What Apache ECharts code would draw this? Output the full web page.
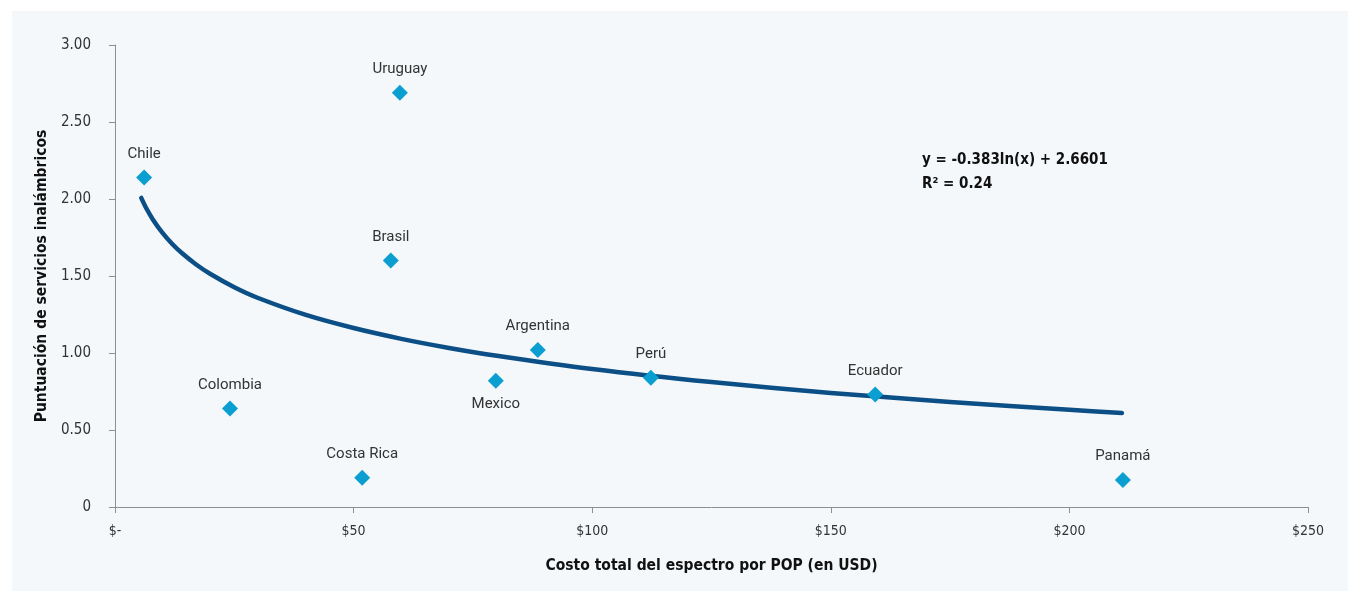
<!DOCTYPE html>
<html>
<head>
<meta charset="utf-8">
<script src="https://cdn.jsdelivr.net/npm/echarts@6/dist/echarts.min.js"></script>
<style>
  html, body { margin: 0; padding: 0; background: #ffffff; }
  #chart { width: 1360px; height: 593px; }
</style>
</head>
<body>
<div id="chart"></div>
<script>
// paises y valores
const countries = ['Chile', 'Uruguay', 'Brasil', 'Colombia', 'Costa Rica', 'Mexico', 'Argentina', 'Perú', 'Ecuador', 'Panamá'];
const costUSD = [6.1, 59.7, 57.8, 24.1, 51.8, 79.8, 88.6, 112.3, 159.3, 211.2];
const wirelessScore = [2.14, 2.69, 1.60, 0.64, 0.19, 0.82, 1.02, 0.84, 0.73, 0.175];
const labelBelow = ['Mexico'];

// linea de tendencia
const trendX = [5.5, 6.5, 8, 10, 12, 14, 17, 20, 25, 30, 40, 50, 60, 70, 80, 100, 125, 150, 175, 200, 211];
const trendY = [2.007, 1.943, 1.864, 1.778, 1.708, 1.649, 1.575, 1.513, 1.427, 1.357, 1.247, 1.162, 1.092, 1.033, 0.982, 0.896, 0.811, 0.741, 0.682, 0.631, 0.610];
const trendText = ['y = -0.383ln(x) + 2.6601', 'R² = 0.24'];

const xTickLabels = ['$-', '$50', '$100', '$150', '$200', '$250'];
const yTickLabels = ['0', '0.50', '1.00', '1.50', '2.00', '2.50', '3.00'];

const chart = echarts.init(document.getElementById('chart'), null, { renderer: 'canvas' });

const narrow = '"DejaVu Sans Condensed", "Liberation Sans Narrow", sans-serif';

chart.setOption({
    animation: false,
    backgroundColor: '#ffffff',
    graphic: [
        { type: 'rect', z: -10, silent: true, shape: { x: 12, y: 11, width: 1336, height: 580 }, style: { fill: '#f4f8fa' } },
        {
            type: 'text', left: 922, top: 148, z: 10,
            style: { text: trendText.join('\n'), font: 'bold 15px ' + narrow, fill: '#111', lineHeight: 24 }
        }
    ],
    grid: { left: 115, right: 52, top: 45, bottom: 86 },
    xAxis: {
        type: 'value', min: 0, max: 250, interval: 50,
        name: 'Costo total del espectro por POP (en USD)',
        nameLocation: 'middle', nameGap: 51,
        nameTextStyle: { fontFamily: narrow, fontWeight: 'bold', fontSize: 15.5, color: '#111' },
        axisLine: { lineStyle: { color: '#8f8f8f', width: 1 } },
        axisTick: { show: true, length: 6, lineStyle: { color: '#8f8f8f' } },
        axisLabel: {
            margin: 17, fontFamily: narrow, fontSize: 14, color: '#333',
            formatter: v => xTickLabels[Math.round(v / 50)]
        },
        splitLine: { show: false }
    },
    yAxis: {
        type: 'value', min: 0, max: 3, interval: 0.5,
        name: 'Puntuación de servicios inalámbricos',
        nameLocation: 'middle', nameGap: 64, nameRotate: 90,
        nameTextStyle: { fontFamily: narrow, fontWeight: 'bold', fontSize: 15.5, color: '#111' },
        axisLine: { show: true, lineStyle: { color: '#8f8f8f', width: 1 } },
        axisTick: { show: true, length: 6, lineStyle: { color: '#8f8f8f' } },
        axisLabel: {
            margin: 24, fontFamily: narrow, fontSize: 15, color: '#333',
            formatter: v => yTickLabels[Math.round(v / 0.5)]
        },
        splitLine: { show: false }
    },
    series: [
        {
            type: 'line',
            data: trendX.map((x, i) => [x, trendY[i]]),
            smooth: 0.3,
            showSymbol: false,
            lineStyle: { color: '#0b4f86', width: 4.5, cap: 'round', join: 'round' },
            z: 2
        },
        {
            type: 'scatter',
            symbol: 'diamond',
            symbolSize: 16,
            itemStyle: { color: '#0a9fd0', opacity: 1 },
            data: countries.map((c, i) => ({
                name: c,
                value: [costUSD[i], wirelessScore[i]],
                label: { position: labelBelow.includes(c) ? 'bottom' : 'top' }
            })),
            label: {
                show: true, distance: 8,
                formatter: p => p.name,
                fontFamily: 'Roboto, sans-serif', fontSize: 15, color: '#333'
            },
            z: 3
        }
    ]
});
</script>
</body>
</html>
